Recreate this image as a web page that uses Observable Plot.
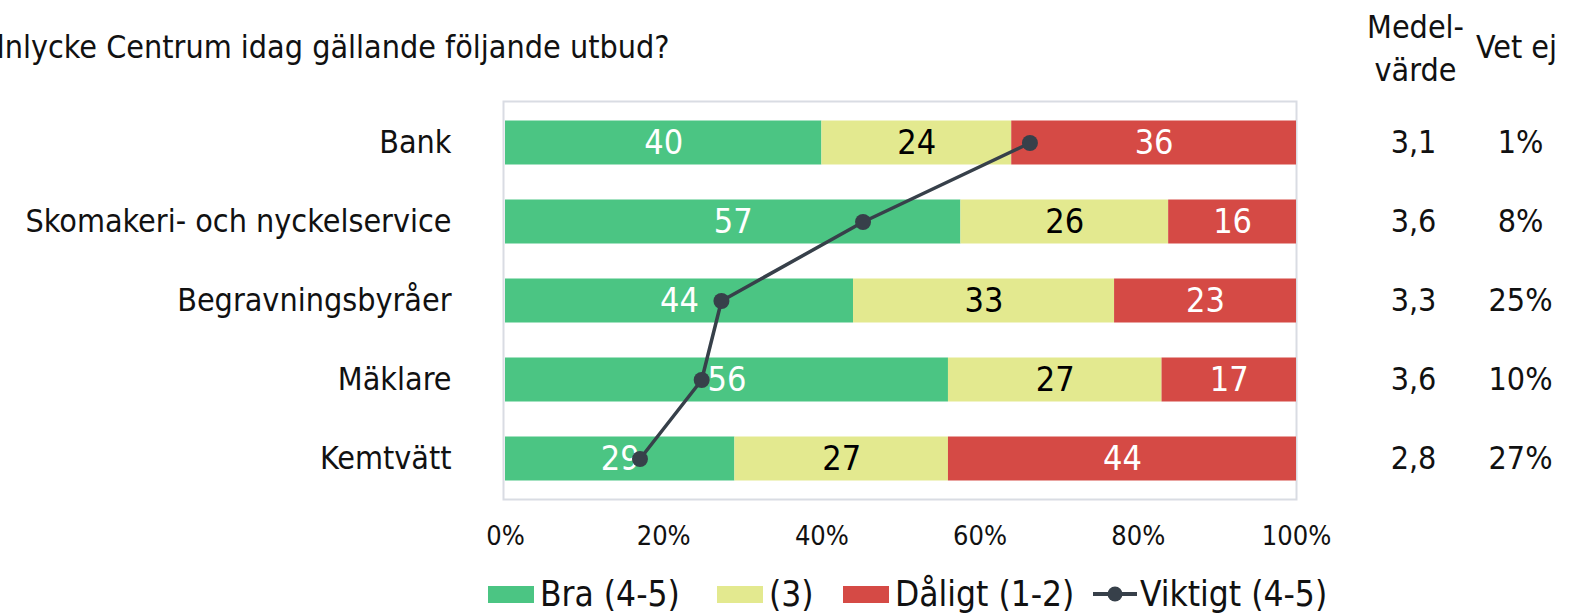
<!DOCTYPE html>
<html>
<head>
<meta charset="utf-8">
<script src="https://cdn.jsdelivr.net/npm/d3@7"></script>
<script src="https://cdn.jsdelivr.net/npm/@observablehq/plot@0.6"></script>
<style>
  html, body { margin: 0; padding: 0; background: #fff; width: 1583px; height: 616px; overflow: hidden; }
  body { font-family: "DejaVu Sans Condensed", "DejaVu Sans", sans-serif; font-stretch: condensed; position: relative; }
  #legend { position: absolute; left: 0; top: 570px; width: 1583px; height: 48px; }
  .li { position: absolute; top: 0; height: 48px; display: flex; align-items: center; font-size: 35px; color: #111; white-space: nowrap; }
  .sw { display: inline-block; width: 46px; height: 17px; margin-right: 6px; }
</style>
</head>
<body>
<div id="chart"></div>
<div id="legend"></div>
<script>
const categories = ["Bank", "Skomakeri- och nyckelservice", "Begravningsbyråer", "Mäklare", "Kemtvätt"];
const seriesNames = ["Bra (4-5)", "(3)", "Dåligt (1-2)"];
const bra = [40, 57, 44, 56, 29];
const mitten = [24, 26, 33, 27, 27];
const daligt = [36, 16, 23, 17, 44];
const viktigt = [66.3, 45.2, 27.3, 24.8, 17.0];
const medelvarde = ["3,1", "3,6", "3,3", "3,6", "2,8"];
const vetEj = ["1%", "8%", "25%", "10%", "27%"];
const lineName = "Viktigt (4-5)";
const xTicks = [0, 20, 40, 60, 80, 100];
const titleText = "Hur nöjd är du med Mölnlycke Centrum idag gällande följande utbud?";

const colors = ["#4BC583", "#E3E98F", "#D54A45"];
const lineColor = "#37404A";
const labelColors = ["#ffffff", "#000000", "#ffffff"];

const long = [];
categories.forEach((c, i) => {
  [bra, mitten, daligt].forEach((arr, s) => {
    long.push({cat: c, series: seriesNames[s], s, value: arr[i]});
  });
});
const lineData = categories.map((c, i) => ({cat: c, v: viktigt[i] / 100}));
const side = categories.map((c, i) => ({cat: c, m: medelvarde[i], v: vetEj[i]}));

const fontFam = '"DejaVu Sans Condensed", "DejaVu Sans", sans-serif';

const chart = Plot.plot({
  width: 1583,
  height: 570,
  marginTop: 101,
  marginBottom: 71,
  marginLeft: 505,
  marginRight: 287,
  style: {fontFamily: fontFam, fontSize: "27px", color: "#111", overflow: "visible"},
  x: {domain: [0, 1], ticks: xTicks.map(d => d / 100), tickFormat: d => Math.round(d * 100) + "%", tickSize: 0, tickPadding: 26, label: null},
  y: {domain: categories, padding: 0, tickSize: 0, tickPadding: 54, label: null},
  color: {domain: seriesNames, range: colors},
  marks: [
    Plot.frame({stroke: "#D9DCE3", strokeWidth: 2, insetLeft: -2}),
    Plot.barX(long, Plot.stackX({x: "value", y: "cat", fill: "series", order: seriesNames, offset: "normalize", insetTop: 17.5, insetBottom: 17.5})),
    Plot.text(long, Plot.stackX({x: "value", y: "cat", z: "series", order: seriesNames, offset: "normalize", text: d => String(d.value), fill: d => labelColors[d.s], fontSize: 34})),
    Plot.line(lineData, {x: "v", y: "cat", stroke: lineColor, strokeWidth: 3.5}),
    Plot.dot(lineData, {x: "v", y: "cat", r: 8, fill: lineColor, stroke: "none"}),
    Plot.text(side, {y: "cat", text: "m", frameAnchor: "right", textAnchor: "middle", dx: 117, fontSize: 32, fill: "#111"}),
    Plot.text(side, {y: "cat", text: "v", frameAnchor: "right", textAnchor: "middle", dx: 224, fontSize: 32, fill: "#111"}),
    Plot.text(["Medel-\nvärde"], {frameAnchor: "top-right", textAnchor: "middle", dx: 119, dy: -56, fontSize: 32, lineHeight: 1.35, lineAnchor: "middle", fill: "#111"}),
    Plot.text(["Vet ej"], {frameAnchor: "top-right", textAnchor: "middle", dx: 220, dy: -54, fontSize: 32, lineAnchor: "middle", fill: "#111"}),
    Plot.text([titleText], {frameAnchor: "top-left", dx: 164, dy: -54, fontSize: 32, textAnchor: "end", lineAnchor: "middle", fill: "#111"})
  ]
});
chart.querySelectorAll("g[aria-label='y-axis tick label']").forEach(e => e.setAttribute("font-size", "32"));
document.getElementById("chart").appendChild(chart);

const legend = document.getElementById("legend");
const lefts = [488, 717, 843, 1093];
seriesNames.forEach((n, i) => {
  const d = document.createElement("div");
  d.className = "li";
  d.style.left = lefts[i] + "px";
  d.innerHTML = `<span class="sw" style="background:${colors[i]}"></span><span>${n}</span>`;
  legend.appendChild(d);
});
const dl = document.createElement("div");
dl.className = "li";
dl.style.left = lefts[3] + "px";
dl.innerHTML = `<svg width="44" height="20" style="margin-right:3px"><line x1="0" y1="10" x2="44" y2="10" stroke="${lineColor}" stroke-width="4"/><circle cx="22" cy="10" r="7.5" fill="${lineColor}"/></svg><span>${lineName}</span>`;
legend.appendChild(dl);
</script>
</body>
</html>
